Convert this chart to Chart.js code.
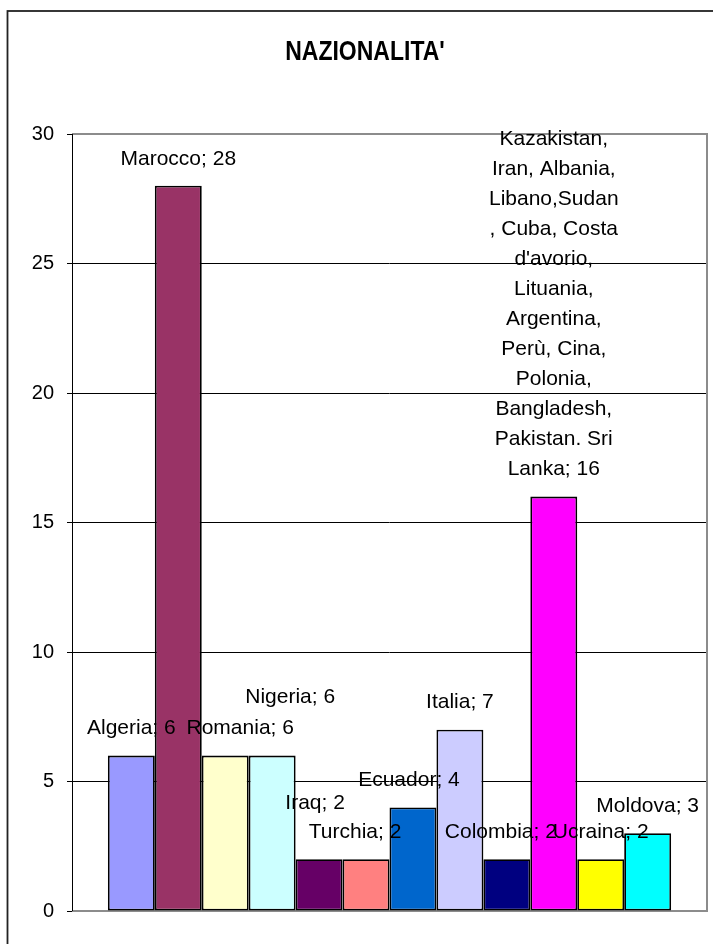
<!DOCTYPE html>
<html>
<head>
<meta charset="utf-8">
<script src="https://cdn.jsdelivr.net/npm/chart.js@4.4.1/dist/chart.umd.min.js"></script>
<style>
  body { margin: 0; background: #fff; }
  #wrap { width: 713px; height: 944px; }
</style>
</head>
<body>
<div id="wrap"><canvas id="myChart" width="713" height="944"></canvas></div>
<script>
// one series per country, as in the original spreadsheet
var countries = [
  'Algeria', 'Marocco', 'Romania', 'Nigeria', 'Iraq', 'Turchia',
  'Ecuador', 'Italia', 'Colombia',
  'Kazakistan, Iran, Albania, Libano,Sudan , Cuba, Costa d\'avorio, Lituania, Argentina, Perù, Cina, Polonia, Bangladesh, Pakistan. Sri Lanka',
  'Ucraina', 'Moldova'
];
var counts = [6, 28, 6, 6, 2, 2, 4, 7, 2, 16, 2, 3];
var yTicks = [0, 5, 10, 15, 20, 25, 30];
var chartTitle = "NAZIONALITA'";

var barColors = ['#9999FF', '#993366', '#FFFFCC', '#CCFFFF', '#660066', '#FF8080',
                 '#0066CC', '#CCCCFF', '#000080', '#FF00FF', '#FFFF00', '#00FFFF'];

// label lines for the long one, wrapped like the original
var longLabel = ['Kazakistan,', 'Iran, Albania,', 'Libano,Sudan', ', Cuba, Costa', 'd\'avorio,',
                 'Lituania,', 'Argentina,', 'Perù, Cina,', 'Polonia,', 'Bangladesh,',
                 'Pakistan. Sri', 'Lanka; 16'];
// small nudges so labels sit where the original put them [dx, dy]
var nudge = [[0,0],[0,0],[15,0],[18,-31],[-4,-29],[-11,0],[-4,0],[0,0],[-6,0],[0,0],[0,0],[0,0]];

var FONT = "'Liberation Sans', Arial, sans-serif";

var datasets = countries.map(function (name, i) {
  return {
    label: name,
    data: [counts[i]],
    backgroundColor: barColors[i],
    borderColor: '#000',
    borderWidth: 1.8,
    borderSkipped: false,
    categoryPercentage: 0.887,
    barPercentage: 1
  };
});

var frame = {
  id: 'frame',
  beforeDraw: function (chart) {
    var c = chart.ctx;
    c.save();
    c.fillStyle = '#fff';
    c.fillRect(0, 0, chart.width, chart.height);
    c.strokeStyle = '#222';
    c.lineWidth = 1.8;
    c.strokeRect(7.5, 11, 730, 960);
    // title, a bit condensed like the original
    c.fillStyle = '#000';
    c.font = 'bold 23px ' + FONT;
    c.textAlign = 'center';
    c.textBaseline = 'middle';
    c.translate(365, 52);
    c.scale(1, 1.2);
    c.fillText(chartTitle, 0, 0);
    c.restore();
  },
  beforeDatasetsDraw: function (chart) {
    var a = chart.chartArea, c = chart.ctx;
    c.save();
    c.strokeStyle = '#8c8c8c';
    c.lineWidth = 2;
    c.beginPath();
    c.moveTo(a.left, a.top);
    c.lineTo(a.right, a.top);
    c.lineTo(a.right, a.bottom);
    c.lineTo(a.left, a.bottom);
    c.stroke();
    c.strokeStyle = '#000';
    c.lineWidth = 1;
    c.beginPath();
    c.moveTo(a.left + 0.5, a.top);
    c.lineTo(a.left + 0.5, a.bottom);
    c.stroke();
    c.restore();
  },
  afterDatasetsDraw: function (chart) {
    var c = chart.ctx;
    c.save();
    c.font = '21px ' + FONT;
    c.fillStyle = '#000';
    c.textAlign = 'center';
    c.textBaseline = 'middle';
    chart.data.datasets.forEach(function (ds, i) {
      var bar = chart.getDatasetMeta(i).data[0];
      var lines = ds.label.length > 40 ? longLabel : [ds.label + '; ' + ds.data[0]];
      var x = bar.x + nudge[i][0];
      var y = bar.y - 27 + nudge[i][1];
      for (var k = lines.length - 1; k >= 0; k--) {
        c.fillText(lines[k], x, y - (lines.length - 1 - k) * 30);
      }
    });
    c.restore();
  }
};

new Chart(document.getElementById('myChart'), {
  type: 'bar',
  data: { labels: [''], datasets: datasets },
  options: {
    responsive: false,
    animation: false,
    events: [],
    layout: { padding: { left: 0, right: 6, top: 134, bottom: 33 } },
    plugins: {
      legend: { display: false },
      tooltip: { enabled: false },
      title: { display: false }
    },
    scales: {
      x: { display: false },
      y: {
        min: 0,
        max: 30,
        afterFit: function (scale) { scale.width = 72; },
        afterBuildTicks: function (scale) {
          scale.ticks = yTicks.map(function (v) { return { value: v }; });
        },
        border: { display: false },
        grid: {
          color: function (ctx) {
            var v = ctx.tick ? ctx.tick.value : 0;
            return (v === 0 || v === 30) ? 'rgba(0,0,0,0)' : '#000';
          },
          tickColor: '#000',
          tickLength: 5,
          lineWidth: 1
        },
        ticks: {
          color: '#000',
          padding: 13,
          font: { family: FONT, size: 20 }
        }
      }
    }
  },
  plugins: [frame]
});
</script>
</body>
</html>
